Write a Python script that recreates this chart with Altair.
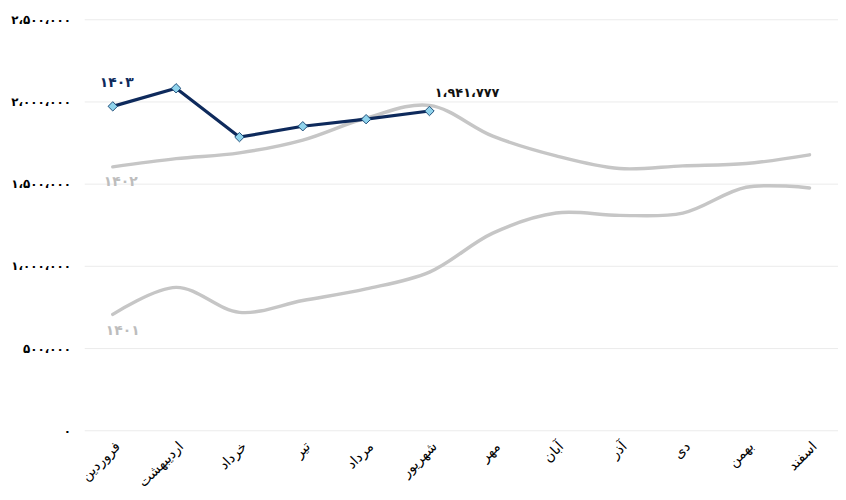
import altair as alt
import pandas as pd

months = ["فروردین", "اردیبهشت", "خرداد", "تیر", "مرداد", "شهریور",
          "مهر", "آبان", "آذر", "دی", "بهمن", "اسفند"]

series_names = ["۱۴۰۱", "۱۴۰۲", "۱۴۰۳"]
values_1401 = [705000, 869000, 717000, 789000, 860000, 962000,
               1199000, 1321000, 1307000, 1321000, 1478000, 1474000]
values_1402 = [1602000, 1652000, 1687000, 1765000, 1899000, 1976000,
               1789000, 1669000, 1592000, 1608000, 1622000, 1675000]
values_1403 = [1970000, 2080000, 1783000, 1849000, 1892000, 1941777]

y_ticks = [0, 500000, 1000000, 1500000, 2000000, 2500000]
y_tick_labels = ["۰", "۵۰۰،۰۰۰", "۱،۰۰۰،۰۰۰", "۱،۵۰۰،۰۰۰", "۲،۰۰۰،۰۰۰", "۲،۵۰۰،۰۰۰"]
last_label = "۱،۹۴۱،۷۷۷"

rows = []
for name, vals in zip(series_names, [values_1401, values_1402, values_1403]):
    for i, v in enumerate(vals):
        rows.append({"series": name, "month": months[i], "value": v, "idx": i})
df = pd.DataFrame(rows)

label_expr = ""
for t, l in zip(y_ticks, y_tick_labels):
    label_expr += f"datum.value == {t} ? '{l}' : "
label_expr += "''"

FONT = "DejaVu Sans"

x_enc = alt.X("month:N", sort=months, title=None,
              scale=alt.Scale(type="point", padding=0.45),
              axis=alt.Axis(labelAngle=-45, labelFontSize=14, labelColor="#000000",
                            labelFont=FONT, ticks=False, domain=False, grid=False,
                            labelPadding=9))
y_enc = alt.Y("value:Q", title=None,
              scale=alt.Scale(domain=[0, 2500000], nice=False),
              axis=alt.Axis(values=y_ticks, labelExpr=label_expr, labelFontSize=12,
                            labelFont=FONT, labelFontWeight="bold", labelColor="#000000",
                            ticks=False, domain=False, gridColor="#ebebeb",
                            gridWidth=1, labelPadding=14))

base = alt.Chart(df)

gray = base.transform_filter(alt.datum.series != "۱۴۰۳").mark_line(
    interpolate="catmull-rom", color="#c6c6c6", strokeWidth=3.5, strokeCap="round"
).encode(x=x_enc, y=y_enc, detail="series:N")

navy = base.transform_filter(alt.datum.series == "۱۴۰۳").mark_line(
    color="#0e2a5c", strokeWidth=3.2
).encode(x=x_enc, y=y_enc)

pts = base.transform_filter(alt.datum.series == "۱۴۰۳").mark_point(
    shape="diamond", filled=True, fill="#8fd3ec", stroke="#1f4e79",
    strokeWidth=1, size=90, opacity=1
).encode(x=x_enc, y=y_enc)

first = base.transform_filter(alt.datum.idx == 0)

lab1403 = first.transform_filter(alt.datum.series == "۱۴۰۳").mark_text(
    font=FONT, fontSize=14, fontWeight="bold", color="#0e2a5c", dx=4, dy=-24
).encode(x=x_enc, y=y_enc, text="series:N")

lab1402 = first.transform_filter(alt.datum.series == "۱۴۰۲").mark_text(
    font=FONT, fontSize=14, fontWeight="bold", color="#bdbdbd", dx=8, dy=15
).encode(x=x_enc, y=y_enc, text="series:N")

lab1401 = first.transform_filter(alt.datum.series == "۱۴۰۱").mark_text(
    font=FONT, fontSize=14, fontWeight="bold", color="#bdbdbd", dx=10, dy=17
).encode(x=x_enc, y=y_enc, text="series:N")

ann = base.transform_filter(
    (alt.datum.series == "۱۴۰۳") & (alt.datum.idx == 5)
).mark_text(
    font=FONT, fontSize=13, fontWeight="bold", color="#111111", dx=38, dy=-18
).encode(x=x_enc, y=y_enc, text=alt.value(last_label))

chart = alt.layer(gray, navy, pts, lab1403, lab1402, lab1401, ann).properties(
    width=761, height=415,
    background="#ffffff",
    autosize=alt.AutoSizeParams(type="none"),
    padding={"left": 77, "top": 9, "right": 0, "bottom": 60},
).configure_view(
    stroke="transparent", strokeWidth=0
)

chart.save("out.html", embed_options={"renderer": "svg", "actions": False})
